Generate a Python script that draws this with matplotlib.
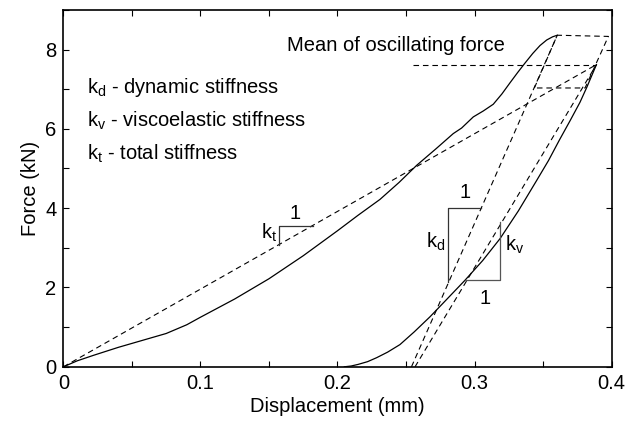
import matplotlib
matplotlib.use("Agg")
import matplotlib.pyplot as plt
from matplotlib.ticker import MultipleLocator, FixedLocator, FixedFormatter

plt.rcParams['font.family'] = ['Liberation Sans', 'DejaVu Sans']
plt.rcParams['mathtext.fontset'] = 'custom'
plt.rcParams['mathtext.rm'] = 'Liberation Sans'
plt.rcParams['mathtext.it'] = 'Liberation Sans'

# Loading curve (solid)
load_x = [0, 0.01, 0.022, 0.04, 0.06, 0.075, 0.09, 0.1, 0.125, 0.15, 0.175, 0.2, 0.215, 0.231,
          0.245, 0.2578, 0.272, 0.2845, 0.2906, 0.2991, 0.3064, 0.3137, 0.32, 0.3259, 0.3315,
          0.3369, 0.3425, 0.3478, 0.3527, 0.357, 0.3604]
load_y = [0, 0.15, 0.29, 0.49, 0.69, 0.84, 1.06, 1.25, 1.71, 2.22, 2.8, 3.43, 3.82, 4.22,
          4.65, 5.08, 5.5, 5.88, 6.02, 6.3, 6.45, 6.62, 6.88, 7.16, 7.42,
          7.66, 7.9, 8.1, 8.24, 8.32, 8.36]

# Unloading / reloading curve (solid)
unload_x = [0.205, 0.21, 0.215, 0.222, 0.2286, 0.2366, 0.2456, 0.256, 0.2675, 0.28, 0.293,
            0.306, 0.3186, 0.332, 0.3454, 0.354, 0.362, 0.37, 0.377, 0.382, 0.389]
unload_y = [0.0, 0.02, 0.06, 0.13, 0.23, 0.37, 0.56, 0.88, 1.26, 1.71, 2.18,
            2.68, 3.23, 3.93, 4.70, 5.2, 5.72, 6.22, 6.67, 7.05, 7.62]

# Oscillation parallelogram (dashed)
osc_x = [0.3437, 0.3604, 0.3977, 0.3807, 0.3437]
osc_y = [7.03, 8.36, 8.33, 7.03, 7.03]

# Stiffness lines
kt_x = [0.0, 0.389]
kt_y = [0.0, 7.62]
kd_x = [0.254, 0.3604]
kd_y = [0.0, 8.36]
kv_x = [0.2566, 0.389]
kv_y = [0.0, 7.62]
mean_x = [0.2553, 0.389]
mean_y = [7.62, 7.62]

# Slope triangles
tri_t_x = [0.1573, 0.1573, 0.1819]
tri_t_y = [3.08, 3.56, 3.56]
tri_d_x = [0.2809, 0.2809, 0.3047]
tri_d_y = [2.13, 4.0, 4.0]
tri_v_x = [0.293, 0.3186, 0.3186]
tri_v_y = [2.20, 2.20, 3.65]

fig = plt.figure(figsize=(6.41, 4.28), dpi=100)
ax = fig.add_axes([0.099, 0.143, 0.855, 0.834])

ds = dict(color='black', lw=0.8, ls=(0, (5, 3.5)))
ax.plot(load_x, load_y, color='black', lw=0.9)
ax.plot(unload_x, unload_y, color='black', lw=0.9)
ax.plot(osc_x, osc_y, **ds)
ax.plot(kt_x, kt_y, **ds)
ax.plot(kd_x, kd_y, **ds)
ax.plot(kv_x, kv_y, **ds)
ax.plot(mean_x, mean_y, **ds)

ax.plot(tri_t_x, tri_t_y, color='#333333', lw=0.9)
ax.plot(tri_d_x, tri_d_y, color='#333333', lw=0.9)
ax.plot(tri_v_x, tri_v_y, color='#555555', lw=0.9)

fs = 14.5
ax.text(0.169, 3.86, '1', fontsize=fs, ha='center', va='center')
ax.text(0.156, 3.37, r'k$_\mathrm{t}$', fontsize=fs, ha='right', va='center')
ax.text(0.293, 4.39, '1', fontsize=fs, ha='center', va='center')
ax.text(0.279, 3.15, r'k$_\mathrm{d}$', fontsize=fs, ha='right', va='center')
ax.text(0.322, 3.07, r'k$_\mathrm{v}$', fontsize=fs, ha='left', va='center')
ax.text(0.3077, 1.72, '1', fontsize=fs, ha='center', va='center')

ax.text(0.163, 8.10, 'Mean of oscillating force', fontsize=fs, ha='left', va='center')
ax.text(0.0174, 7.04, r'k$_\mathrm{d}$ - dynamic stiffness', fontsize=fs, ha='left', va='center')
ax.text(0.0174, 6.21, r'k$_\mathrm{v}$ - viscoelastic stiffness', fontsize=fs, ha='left', va='center')
ax.text(0.0174, 5.37, r'k$_\mathrm{t}$ - total stiffness', fontsize=fs, ha='left', va='center')

ax.set_xlim(0, 0.4)
ax.set_ylim(0, 9)
ax.xaxis.set_major_locator(FixedLocator([0, 0.1, 0.2, 0.3, 0.4]))
ax.xaxis.set_major_formatter(FixedFormatter(['0', '0.1', '0.2', '0.3', '0.4']))
ax.xaxis.set_minor_locator(MultipleLocator(0.05))
ax.yaxis.set_major_locator(FixedLocator([0, 2, 4, 6, 8]))
ax.yaxis.set_major_formatter(FixedFormatter(['0', '2', '4', '6', '8']))
ax.yaxis.set_minor_locator(MultipleLocator(1))
ax.tick_params(which='both', direction='in', length=4, width=0.8,
               top=True, right=True, labelsize=fs, pad=5)
for s in ax.spines.values():
    s.set_linewidth(1.2)
ax.set_xlabel('Displacement (mm)', fontsize=fs, labelpad=3)
ax.set_ylabel('Force (kN)', fontsize=fs, labelpad=4)

fig.savefig('out.png', dpi=100)
